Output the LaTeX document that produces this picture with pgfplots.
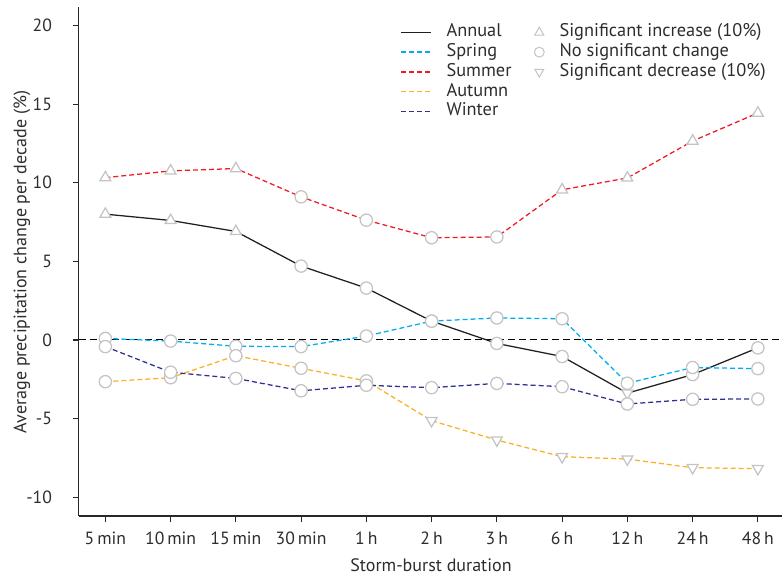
\documentclass[border=0pt]{standalone}
\usepackage{fontspec}
\setmainfont{PT Sans}
\usepackage{pgfplots}
\pgfplotsset{compat=1.18}
\definecolor{cAnn}{RGB}{35,31,32}
\definecolor{cSpr}{RGB}{0,174,239}
\definecolor{cSum}{RGB}{237,28,36}
\definecolor{cAut}{RGB}{251,176,40}
\definecolor{cWin}{RGB}{46,49,146}
\definecolor{cMk}{RGB}{196,196,196}
\definecolor{cAx}{RGB}{40,40,40}
\definecolor{cTx}{RGB}{45,45,45}
\newcommand{\fst}{\fontsize{13.25}{15}\selectfont}
\newcommand{\fsl}{\fontsize{13.5}{15}\selectfont}
\newcommand{\fsg}{\fontsize{13.75}{15}\selectfont}
\pgfplotsset{
 up/.style={only marks, mark=triangle*, mark size=4.7pt, mark options={draw=cMk, fill=white, line width=0.95pt, solid}},
 no/.style={only marks, mark=*, mark size=4.6pt, mark options={draw=cMk, fill=white, line width=0.95pt, solid}},
 dn/.style={only marks, mark=triangle*, mark size=4.7pt, mark options={draw=cMk, fill=white, line width=0.95pt, solid, rotate=180}},
 common/.style={scale only axis, width=527.55pt, height=381.75pt,
   xmin=-0.41, xmax=10.37, ymin=-11.19, ymax=21.17},
}
\begin{document}
\begin{tikzpicture}
\begin{axis}[common, name=main,
 axis x line*=bottom, axis y line*=left,
 axis line style={cAx, line width=0.8pt, -},
 tick align=outside, major tick length=4.5pt,
 tick style={cAx, line width=0.8pt},
 xtick={0,...,10},
 xticklabels={5\,min,10\,min,15\,min,30\,min,1\,h,2\,h,3\,h,6\,h,12\,h,24\,h,48\,h},
 ytick={-10,-5,0,5,10,15,20}, yticklabels={-10,-5,0,5,10,15,20},
 tick label style={font=\fst, text=cTx},
 xticklabel style={yshift=-4pt},
 yticklabel style={xshift=-12pt},
 label style={font=\fsl, text=cTx},
 xlabel={Storm-burst duration},
 ylabel={Average precipitation change per decade (\%)},
 xlabel style={at={(axis description cs:0.501,0)}, anchor=center, yshift=-36.75pt},
 ylabel style={at={(axis description cs:-0.0805,0.499)}, anchor=center},
 legend cell align=left,
 legend style={draw=none, fill=none, at={(0.4569,0.9694)}, anchor=north west,
   inner sep=0pt, outer sep=0pt, row sep=0pt, column sep=11.25pt,
   font=\fsg,
   nodes={inner sep=0pt, text height=10.8pt, text depth=4pt}},
 legend image code/.code={\draw[#1, line width=1.2pt] (0pt,0pt) -- (22.5pt,0pt);},
]
\addplot[forget plot, black, line width=0.75pt, dash pattern=on 5.25pt off 3pt] coordinates {(-0.41,0) (10.37,0)};

% Annual
\addplot[color=cAnn, solid, line width=0.95pt] coordinates {(0,8.0)(1,7.6)(2,6.9)(3,4.7)(4,3.3)(5,1.2)(6,-0.22)(7,-1.05)(8,-3.38)(9,-2.2)(10,-0.5)};
\addlegendentry{\textcolor{cTx}{Annual}}
% Spring
\addplot[color=cSpr, line width=0.95pt, dash pattern=on 3.75pt off 2.25pt] coordinates {(0,0.1)(1,-0.07)(2,-0.4)(3,-0.42)(4,0.25)(5,1.2)(6,1.4)(7,1.35)(8,-2.75)(9,-1.75)(10,-1.82)};
\addlegendentry{\textcolor{cTx}{Spring}}
% Summer
\addplot[color=cSum, line width=0.95pt, dash pattern=on 3.75pt off 2.25pt] coordinates {(0,10.32)(1,10.75)(2,10.9)(3,9.1)(4,7.62)(5,6.5)(6,6.55)(7,9.55)(8,10.3)(9,12.65)(10,14.43)};
\addlegendentry{\textcolor{cTx}{Summer}}
% Autumn
\addplot[color=cAut, line width=0.95pt, dash pattern=on 3.75pt off 2.25pt] coordinates {(0,-2.65)(1,-2.4)(2,-1.0)(3,-1.8)(4,-2.6)(5,-5.13)(6,-6.36)(7,-7.42)(8,-7.57)(9,-8.12)(10,-8.18)};
\addlegendentry{\textcolor{cTx}{Autumn}}
% Winter
\addplot[color=cWin, line width=0.95pt, dash pattern=on 3.75pt off 2.25pt] coordinates {(0,-0.42)(1,-2.05)(2,-2.44)(3,-3.23)(4,-2.88)(5,-3.03)(6,-2.76)(7,-2.97)(8,-4.07)(9,-3.77)(10,-3.75)};
\addlegendentry{\textcolor{cTx}{Winter}}

% markers: significant increase
\addplot[forget plot, up] coordinates {(0,8.0)(1,7.6)(2,6.9)(0,10.32)(1,10.75)(2,10.9)(7,9.55)(8,10.3)(9,12.65)(10,14.43)};
% significant decrease
\addplot[forget plot, dn] coordinates {(8,-3.38)(5,-5.13)(6,-6.36)(7,-7.42)(8,-7.57)(9,-8.12)(10,-8.18)};
% no significant change
\addplot[forget plot, no] coordinates {
(3,4.7)(4,3.3)(5,1.2)(6,-0.22)(7,-1.05)(9,-2.2)(10,-0.5)
(0,0.1)(1,-0.07)(2,-0.4)(3,-0.42)(4,0.25)(5,1.2)(6,1.4)(7,1.35)(8,-2.75)(9,-1.75)(10,-1.82)
(3,9.1)(4,7.62)(5,6.5)(6,6.55)
(0,-2.65)(1,-2.4)(2,-1.0)(3,-1.8)(4,-2.6)
(0,-0.42)(1,-2.05)(2,-2.44)(3,-3.23)(4,-2.88)(5,-3.03)(6,-2.76)(7,-2.97)(8,-4.07)(9,-3.77)(10,-3.75)};
\end{axis}
\begin{axis}[common, hide axis,
 legend cell align=left,
 legend style={draw=none, fill=none, at={(0.647,0.9694)}, anchor=north west,
   inner sep=0pt, outer sep=0pt, row sep=0pt, column sep=11pt,
   font=\fsg,
   nodes={inner sep=0pt, text height=10.8pt, text depth=4pt}},
 legend image code/.code={\path (-4pt,0pt) (4pt,0pt); \draw[#1] plot coordinates {(0pt,0pt)};},
]
\addlegendimage{only marks, mark=triangle*, mark size=3.9pt, mark options={draw=cMk, fill=white, line width=0.75pt, solid}}\addlegendentry{\textcolor{cTx}{Significant increase (10\%)}}
\addlegendimage{only marks, mark=*, mark size=3.7pt, mark options={draw=cMk, fill=white, line width=0.75pt, solid}}\addlegendentry{\textcolor{cTx}{No significant change}}
\addlegendimage{only marks, mark=triangle*, mark size=3.9pt, mark options={draw=cMk, fill=white, line width=0.75pt, solid, rotate=180}}\addlegendentry{\textcolor{cTx}{Significant decrease (10\%)}}
\end{axis}
\pgfresetboundingbox
\path ([shift={(-58.95pt,-44.25pt)}]main.south west) rectangle ([shift={(0pt,5.25pt)}]main.north east);
\end{tikzpicture}
\end{document}
